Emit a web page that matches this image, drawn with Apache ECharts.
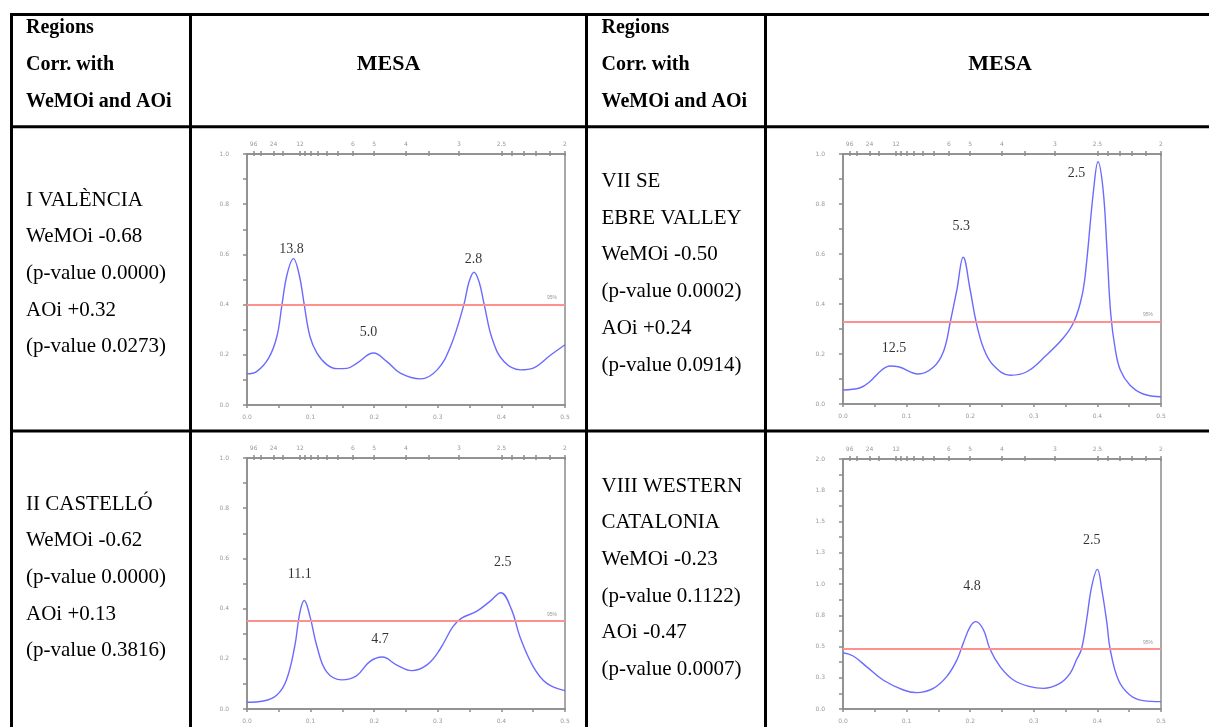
<!DOCTYPE html>
<html>
<head>
<meta charset="utf-8">
<script src="https://cdn.jsdelivr.net/npm/echarts@6/dist/echarts.min.js"></script>
<style>
html,body{margin:0;padding:0;background:#fff;}
#c{width:1209px;height:727px;}
</style>
</head>
<body>
<div id="c"></div>
<script>
// ---------- DATA ----------
// Chart I VALÈNCIA (top-left)
const freqA = [0,0.015,0.034,0.047,0.055,0.063,0.073,0.082,0.090,0.099,0.110,0.126,0.142,0.157,0.173,0.199,0.220,0.241,0.273,0.299,0.320,0.341,0.349,0.357,0.365,0.373,0.386,0.404,0.430,0.450,0.478,0.500];
const specA = [0.124,0.133,0.187,0.273,0.400,0.520,0.583,0.520,0.400,0.273,0.207,0.160,0.145,0.146,0.167,0.207,0.173,0.127,0.104,0.140,0.233,0.400,0.490,0.529,0.490,0.400,0.260,0.173,0.140,0.147,0.200,0.240];
// Chart VII SE EBRE VALLEY (top-right)
const freqB = [0,0.027,0.042,0.061,0.074,0.087,0.118,0.142,0.158,0.169,0.179,0.189,0.200,0.209,0.221,0.236,0.263,0.289,0.320,0.346,0.362,0.373,0.380,0.394,0.401,0.409,0.415,0.421,0.428,0.436,0.451,0.472,0.500];
const specB = [0.056,0.065,0.089,0.136,0.152,0.149,0.120,0.147,0.210,0.332,0.456,0.587,0.456,0.332,0.223,0.156,0.115,0.129,0.196,0.263,0.323,0.403,0.496,0.856,0.969,0.856,0.620,0.360,0.220,0.136,0.076,0.040,0.029];
// Chart II CASTELLÓ (bottom-left)
const freqC = [0,0.026,0.047,0.062,0.075,0.083,0.090,0.099,0.110,0.125,0.149,0.172,0.193,0.213,0.235,0.259,0.283,0.303,0.324,0.338,0.361,0.382,0.399,0.416,0.429,0.450,0.471,0.500];
const specC = [0.027,0.032,0.056,0.116,0.249,0.383,0.432,0.369,0.249,0.149,0.116,0.132,0.189,0.207,0.176,0.153,0.176,0.236,0.329,0.363,0.389,0.429,0.463,0.396,0.289,0.169,0.103,0.073];
// Chart VIII WESTERN CATALONIA (bottom-right)
const freqD = [0,0.016,0.037,0.063,0.095,0.116,0.142,0.163,0.179,0.189,0.200,0.209,0.221,0.231,0.247,0.268,0.294,0.315,0.341,0.357,0.367,0.375,0.383,0.391,0.400,0.407,0.415,0.420,0.433,0.451,0.472,0.500];
const specD = [0.450,0.424,0.339,0.232,0.152,0.131,0.165,0.259,0.392,0.525,0.659,0.699,0.632,0.480,0.339,0.232,0.179,0.165,0.205,0.285,0.392,0.480,0.712,0.979,1.117,0.952,0.685,0.480,0.232,0.112,0.067,0.059];

// 95% significance levels
const sig95 = [0.397, 0.332, 0.349, 0.48];

// Peak annotations: [freq, value, text]
const peaksA = [[0.070,0.62,'13.8'],[0.356,0.58,'2.8'],[0.191,0.29,'5.0']];
const peaksB = [[0.080,0.223,'12.5'],[0.186,0.712,'5.3'],[0.367,0.923,'2.5']];
const peaksC = [[0.083,0.536,'11.1'],[0.209,0.279,'4.7'],[0.402,0.583,'2.5']];
const peaksD = [[0.203,0.979,'4.8'],[0.391,1.352,'2.5']];

// Period axis (top): tick periods and labelled periods
const tickPeriods = [96,48,24,18,12,11,10,9,8,7,6,5,4,3.5,3,2.5,2.4,2.3,2.2,2.1,2];
const labelPeriods = [96,24,12,6,5,4,3,2.5,2];

const yMaxes = [1.0, 1.0, 1.0, 2.0];
const yIntervals = [0.1, 0.1, 0.1, 0.125];

// Table text
const headerLines = ['Regions','Corr. with','WeMOi and AOi'];
const headerTitle = 'MESA';
const cellA = ['I VALÈNCIA','WeMOi -0.68','(p-value 0.0000)','AOi +0.32','(p-value 0.0273)'];
const cellB = ['VII SE','EBRE VALLEY','WeMOi -0.50','(p-value 0.0002)','AOi +0.24','(p-value 0.0914)'];
const cellC = ['II CASTELLÓ','WeMOi -0.62','(p-value 0.0000)','AOi +0.13','(p-value 0.3816)'];
const cellD = ['VIII WESTERN','CATALONIA','WeMOi -0.23','(p-value 0.1122)','AOi -0.47','(p-value 0.0007)'];

// ---------- LAYOUT ----------
const grids = [
  {left:247, top:154, width:318, height:251},
  {left:843, top:154, width:318, height:250},
  {left:247, top:458, width:318, height:251},
  {left:843, top:459, width:318, height:250}
];
const freqs = [freqA, freqB, freqC, freqD];
const specs = [specA, specB, specC, specD];
const peaks = [peaksA, peaksB, peaksC, peaksD];

const axisGray = '#8c8c8c';
const tickFont = {fontSize:6, color:'#999', fontFamily:'DejaVu Sans'};
const serif = '"Liberation Serif","Times New Roman",serif';

const option = {
  animation:false,
  backgroundColor:'#fff',
  grid: grids.map(g => Object.assign({show:true, borderColor:axisGray, borderWidth:1.5, backgroundColor:'transparent'}, g)),
  xAxis: [],
  yAxis: [],
  series: [],
  graphic: []
};

grids.forEach((g, i) => {
  const xb = option.xAxis.length;
  // bottom frequency axis
  option.xAxis.push({
    type:'value', gridIndex:i, min:0, max:0.5, interval:0.05, position:'bottom',
    axisLine:{show:true, lineStyle:{color:axisGray, width:1.5}},
    axisTick:{show:true, length:3, lineStyle:{color:axisGray, width:1.5}},
    splitLine:{show:false},
    axisLabel:Object.assign({margin:9, formatter:v => (Math.round(v*100)%10===0 ? v.toFixed(1) : '')}, tickFont)
  });
  // top period axis
  option.xAxis.push({
    type:'value', gridIndex:i, min:0, max:0.5, position:'top',
    axisLine:{show:true, lineStyle:{color:axisGray, width:1.5}},
    axisTick:{show:true, length:3, customValues: tickPeriods.map(p => 1/p), lineStyle:{color:axisGray, width:1.5}},
    splitLine:{show:false},
    axisLabel:Object.assign({margin:7, customValues: labelPeriods.map(p => 1/p),
      formatter:v => String(Math.round(10/v)/10)}, tickFont)
  });
  // inner half of the crossing top ticks
  option.xAxis.push({
    type:'value', gridIndex:i, min:0, max:0.5, position:'top',
    axisLine:{show:false},
    axisTick:{show:true, inside:true, length:2, customValues: tickPeriods.map(p => 1/p), lineStyle:{color:axisGray, width:1.5}},
    splitLine:{show:false}, axisLabel:{show:false}
  });
  const step = yIntervals[i];
  option.yAxis.push({
    type:'value', gridIndex:i, min:0, max:yMaxes[i], interval:step,
    axisLine:{show:true, lineStyle:{color:axisGray, width:1.5}},
    axisTick:{show:true, length:4, lineStyle:{color:axisGray, width:1.5}},
    splitLine:{show:false},
    axisLabel:Object.assign({margin:18, formatter:v => (Math.round(v/step)%2===0 ? v.toFixed(1) : '')}, tickFont)
  });
  // spectrum curve
  option.series.push({
    type:'line', xAxisIndex:xb, yAxisIndex:i, smooth:0.4, symbol:'none',
    lineStyle:{color:'#6b6bff', width:1.4},
    data: freqs[i].map((f, k) => [f, specs[i][k]]),
    markLine:{
      silent:true, symbol:'none',
      lineStyle:{color:'#ff9090', width:2, type:'solid'},
      label:{show:true, position:'insideEndTop', formatter:'95%', fontSize:5, color:'#999', distance:[8,4]},
      data:[{yAxis:sig95[i]}]
    },
    z:3
  });
  // peak labels
  option.series.push({
    type:'scatter', xAxisIndex:xb, yAxisIndex:i, symbolSize:0,
    data: peaks[i].map(p => ({value:[p[0], p[1]], name:p[2]})),
    label:{show:true, position:'inside', formatter:'{b}', fontFamily:serif, fontSize:14, color:'#000'},
    z:4
  });
});

// ---------- TABLE ----------
const lw = 3;
const vx = [11.5, 190.5, 586.5, 765.5];
const hy = [14.5, 126.7, 431];
hy.forEach(y => option.graphic.push({type:'line', shape:{x1:vx[0]-1.5, y1:y, x2:1209, y2:y}, style:{stroke:'#000', lineWidth:lw}, z:10}));
vx.forEach(x => option.graphic.push({type:'line', shape:{x1:x, y1:hy[0]-1.5, x2:x, y2:727}, style:{stroke:'#000', lineWidth:lw}, z:10}));

function addLines(lines, x, yBase, step, font) {
  lines.forEach((t, k) => option.graphic.push({
    type:'text', x:x, y:yBase + k*step,
    style:{text:t, font:font, fill:'#000', align:'left', verticalAlign:'middle'}, z:10
  }));
}
const boldFont = 'bold 20px ' + serif;
const bodyFont = '21px ' + serif;
addLines(headerLines, 26, 28, 36.7, boldFont);
addLines(headerLines, 601.5, 28, 36.7, boldFont);
[ (vx[1]+vx[2])/2, 1000 ].forEach(cx => option.graphic.push({
  type:'text', x:cx, y:64,
  style:{text:headerTitle, font:'bold 22px ' + serif, fill:'#000', align:'center', verticalAlign:'middle'}, z:10
}));
addLines(cellA, 26, 200, 36.7, bodyFont);
addLines(cellB, 601.5, 181.5, 36.7, bodyFont);
addLines(cellC, 26, 504, 36.7, bodyFont);
addLines(cellD, 601.5, 486, 36.7, bodyFont);

const chart = echarts.init(document.getElementById('c'), null, {renderer:'canvas'});
chart.setOption(option);
</script>
</body>
</html>
